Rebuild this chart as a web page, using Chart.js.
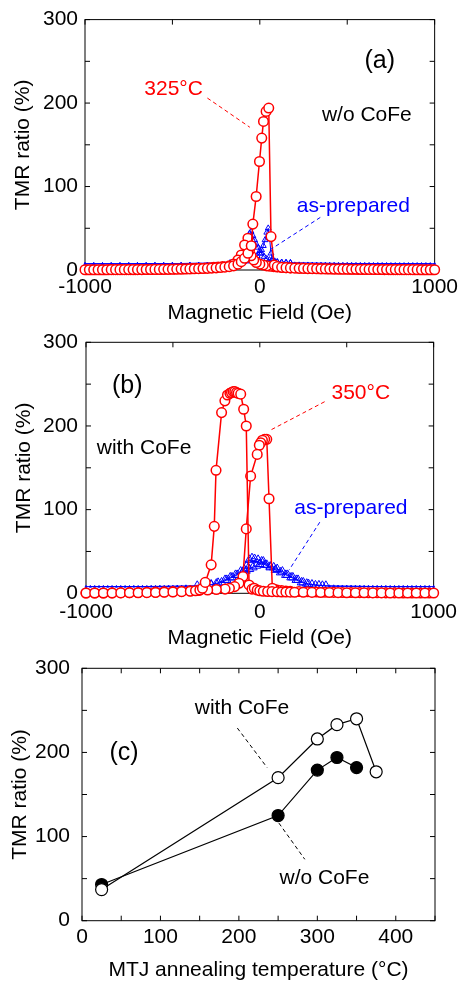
<!DOCTYPE html>
<html>
<head>
<meta charset="utf-8">
<script src="https://cdn.jsdelivr.net/npm/chart.js"></script>
<style>
  html, body { margin: 0; padding: 0; background: #fff; }
  canvas { position: absolute; left: 0; top: 0; }
</style>
</head>
<body>
<canvas id="chartA" width="463" height="983"></canvas>
<canvas id="chartB" width="463" height="983"></canvas>
<canvas id="chartC" width="463" height="983"></canvas>
<script>
  // (a) w/o CoFe : 325C loop (red) and as-prepared loop (blue), field in Oe, TMR in %
  const aRedUpH = [-1000,-975,-950,-925,-900,-875,-850,-825,-800,-775,-750,-725,-700,-675,-650,-625,-600,-575,-550,-525,-500,-475,-450,-425,-400,-375,-350,-325,-300,-275,-250,-225,-200,
    -175,-150,-125,-106,-87,-68,-49,-40,-21,-2,11,21,36,51,64,83,100,125,150,175,
    200,225,250,275,300,325,350,375,400,425,450,475,500,525,550,575,600,625,650,675,700,725,750,775,800,825,850,875,900,925,950,975,1000];
  const aRedUpT = [0.3,0.3,0.3,0.3,0.3,0.3,0.4,0.4,0.4,0.4,0.5,0.5,0.5,0.5,0.6,0.6,0.7,0.7,0.8,0.8,0.9,1.0,1.1,1.2,1.3,1.5,1.6,1.8,2.0,2.3,2.6,3.0,3.4,
    4,5,7,10,14,20,29,55,88,130,158,178,190,194,40,6,4,3.2,2.8,2.5,
    2.2,2.0,1.9,1.7,1.6,1.5,1.4,1.3,1.2,1.1,1.1,1.0,1.0,0.9,0.9,0.8,0.8,0.7,0.7,0.6,0.6,0.6,0.5,0.5,0.5,0.4,0.4,0.4,0.4,0.3,0.3,0.3,0.3];
  const aRedDnH = [988,963,938,913,888,863,838,813,788,763,738,713,688,663,638,613,588,563,538,513,488,463,438,413,388,363,338,313,288,263,238,213,
    175,150,125,100,80,60,40,20,0,-20,-35,-50,-59,-68,-87,-106,-125,-150,-175,
    -213,-238,-263,-288,-313,-338,-363,-388,-413,-438,-463,-488,-513,-538,-563,-588,-613,-638,-663,-688,-713,-738,-763,-788,-813,-838,-863,-888,-913,-938,-963,-988];
  const aRedDnT = [0.3,0.3,0.3,0.3,0.3,0.4,0.4,0.4,0.4,0.5,0.5,0.5,0.6,0.6,0.7,0.7,0.8,0.8,0.9,0.9,1.0,1.1,1.2,1.3,1.4,1.5,1.6,1.8,1.9,2.1,2.3,2.5,
    2.6,2.9,3.2,3.6,4,4.5,5,6,7,9,12,17,24,38,30,18,12,7,5,
    4.2,3.6,3.1,2.7,2.4,2.1,1.9,1.7,1.5,1.4,1.2,1.1,1.0,0.9,0.8,0.8,0.7,0.7,0.6,0.6,0.5,0.5,0.5,0.4,0.4,0.4,0.4,0.3,0.3,0.3,0.3,0.3];
  const aBlueUpH = [-1000,-950,-900,-850,-800,-750,-700,-650,-600,-550,-500,-450,-400,-350,-300,-250,-200,
    -170,-140,-115,-95,-75,-60,-45,-30,-15,0,10,20,30,40,48,56,64,72,85,100,125,150,175,
    200,250,300,350,400,450,500,550,600,650,700,750,800,850,900,950,1000];
  const aBlueUpT = [7.5,7.5,7.5,7.5,7.5,7.5,7.6,7.6,7.7,7.7,7.8,7.8,7.9,8,8.1,8.2,8.3,
    8.5,8.8,9.2,9.8,10.5,11.5,13,15,17,20,24,29,36,45,50,38,20,13,10.5,9.5,9,8.7,8.5,
    8.3,8.2,8.1,8,7.9,7.8,7.8,7.7,7.7,7.6,7.6,7.5,7.5,7.5,7.5,7.5,7.5];
  const aBlueDnH = [975,925,875,825,775,725,675,625,575,525,475,425,375,325,275,225,
    175,150,125,100,85,70,55,40,25,10,0,-10,-20,-30,-40,-50,-58,-66,-75,-90,-110,-130,-160,
    -200,-250,-300,-350,-400,-450,-500,-550,-600,-650,-700,-750,-800,-850,-900,-950,-1000];
  const aBlueDnT = [7.5,7.5,7.5,7.5,7.5,7.6,7.6,7.7,7.7,7.8,7.8,7.9,8,8.1,8.2,8.3,
    8.5,8.7,9,9.5,10,11,12,13.5,16,20,23,27,31,36,41,46,44,30,17,11,9.5,9,8.6,
    8.3,8.2,8.1,8,7.9,7.8,7.8,7.7,7.7,7.6,7.6,7.5,7.5,7.5,7.5,7.5,7.5];

  // (b) with CoFe : 350C loop (red) and as-prepared loop (blue)
  const bRedUpH = [-1000,-950,-900,-850,-800,-750,-700,-650,-600,-550,-500,-450,-400,
    -370,-345,-330,-314,-280,-262,-252,-220,-201,-186,-172,-163,-153,-144,-134,-125,-110,-93,-78,-62,-45,-32,-15,0,20,45,70,100,125,150,175,
    200,250,300,350,400,450,500,550,600,650,700,750,800,850,900,950,1000];
  const bRedUpT = [0.3,0.3,0.4,0.4,0.5,0.6,0.7,0.8,1.0,1.2,1.5,2,2.5,
    3,4,6,13,34,80,147,216,230,237,239,240,241,241,240,239,238,220,200,10,5,6,4,3,2.5,2.2,2,1.8,1.6,1.5,1.4,
    1.3,1.2,1.1,1.0,0.9,0.8,0.7,0.6,0.6,0.5,0.5,0.4,0.4,0.4,0.3,0.3,0.3];
  const bRedDnH = [975,925,875,825,775,725,675,625,575,525,475,425,375,325,275,225,
    175,150,125,100,85,72,53,40,28,15,5,-3,-15,-53,-78,-97,-120,-145,-175,-200,
    -250,-300,-350,-400,-450,-500,-550,-600,-650,-700,-750,-800,-850,-900,-950,-1000];
  const bRedDnT = [0.3,0.3,0.4,0.4,0.5,0.5,0.6,0.7,0.8,0.9,1.0,1.1,1.3,1.5,1.8,2.2,
    2.5,2.8,3.2,3.8,4.5,6,113,184,184,183,180,177,166,140,77,20,12,8,6,5,
    4.5,4,3.5,3,2.5,2,1.7,1.5,1.2,1.0,0.8,0.7,0.5,0.4,0.3,0.3];
  const bBlueUpH = [-1000,-950,-900,-850,-800,-750,-700,-650,-600,-550,-500,-450,-400,
    -360,-320,-280,-250,-220,-190,-160,-130,-100,-80,-60,-40,-20,0,20,40,60,80,100,130,160,190,220,250,280,320,360,
    400,450,500,550,600,650,700,750,800,850,900,950,1000];
  const bBlueUpT = [8,8,8,8,8,8,8,8,8.1,8.2,8.3,8.4,8.5,
    8.7,9,10,11.5,13,16,19,22,25,27,29,31,33,35,38,34,32,31,29,26,22,19,16,13,11,9.5,9,
    8.7,8.5,8.4,8.3,8.2,8.1,8.1,8,8,8,8,8,8];
  const bBlueDnH = [975,925,875,825,775,725,675,625,575,525,475,425,
    380,340,300,270,240,210,180,150,120,90,60,30,10,-10,-30,-45,-60,-75,-90,-110,-140,-170,-200,-240,-280,-320,-360,
    -425,-475,-525,-575,-625,-675,-725,-775,-825,-875,-925,-975];
  const bBlueDnT = [8,8,8,8,8,8.1,8.1,8.2,8.3,8.4,8.5,8.7,
    9,9.5,10.5,11.5,13,16,19,22,25,28,31,34,38,40,41,42,40,33,28,26,22,19,16,12.5,10.5,9.5,9,
    8.7,8.5,8.4,8.3,8.2,8.1,8.1,8,8,8,8,8];

  // (c) peak TMR vs annealing temperature
  const cWithTemp = [25, 250, 300, 325, 350, 375];
  const cWithTmr = [37, 170, 216, 233, 240, 177];
  const cWoTemp = [25, 250, 300, 325, 350];
  const cWoTmr = [43, 125, 179, 194, 182];

  const FONT = "'Liberation Sans', Arial, Helvetica, sans-serif";
  Chart.defaults.font.family = FONT;
  Chart.defaults.font.size = 21;
  Chart.defaults.color = '#000';

  const pts = (xs, ys) => xs.map((x, i) => ({ x: x, y: ys[i] }));

  // box round the plot and inward ticks on all four sides
  const frame = {
    id: 'frame',
    beforeDatasetsDraw(chart) {
      const { ctx, chartArea: a, scales } = chart;
      ctx.save();
      ctx.strokeStyle = '#000';
      ctx.lineWidth = 1;
      ctx.strokeRect(a.left, a.top, a.right - a.left, a.bottom - a.top);
      ctx.beginPath();
      scales.x.ticks.forEach(t => {
        const px = scales.x.getPixelForValue(t.value);
        ctx.moveTo(px, a.bottom); ctx.lineTo(px, a.bottom - 5);
        ctx.moveTo(px, a.top); ctx.lineTo(px, a.top + 5);
      });
      scales.y.ticks.forEach(t => {
        const py = scales.y.getPixelForValue(t.value);
        ctx.moveTo(a.left, py); ctx.lineTo(a.left + 5, py);
        ctx.moveTo(a.right, py); ctx.lineTo(a.right - 5, py);
      });
      ctx.stroke();
      ctx.restore();
    }
  };

  // labels and dashed leader lines, placed in data units
  const notes = {
    id: 'notes',
    afterDatasetsDraw(chart, args, opts) {
      const { ctx, scales } = chart;
      const X = v => scales.x.getPixelForValue(v);
      const Y = v => scales.y.getPixelForValue(v);
      ctx.save();
      (opts.lines || []).forEach(l => {
        ctx.strokeStyle = l.color;
        ctx.lineWidth = 1;
        ctx.setLineDash([4, 3]);
        ctx.beginPath();
        ctx.moveTo(X(l.x1), Y(l.y1));
        ctx.lineTo(X(l.x2), Y(l.y2));
        ctx.stroke();
      });
      ctx.setLineDash([]);
      ctx.textAlign = 'center';
      ctx.textBaseline = 'middle';
      (opts.texts || []).forEach(t => {
        ctx.fillStyle = t.color || '#000';
        ctx.font = (t.size || 21) + 'px ' + FONT;
        ctx.fillText(t.t, X(t.x), Y(t.y));
      });
      ctx.restore();
    }
  };

  function axes(o) {
    return {
      x: {
        type: 'linear', min: o.xmin, max: o.xmax,
        grid: { display: false, drawTicks: false },
        border: { display: false },
        ticks: {
          stepSize: o.xstep, autoSkip: false, maxRotation: 0, padding: o.xpad,
          callback: v => (v % o.xlab === 0 ? String(v) : '')
        },
        title: { display: true, text: o.xtitle, padding: { top: 0, bottom: o.xtp } },
        afterFit: s => { s.height = o.xh; }
      },
      y: {
        type: 'linear', min: 0, max: 300,
        grid: { display: false, drawTicks: false },
        border: { display: false },
        ticks: {
          stepSize: 50, autoSkip: false, padding: o.ypad,
          callback: v => (v % 100 === 0 ? String(v) : '')
        },
        title: { display: true, text: 'TMR ratio (%)', padding: { top: o.ytp, bottom: 0 } },
        afterFit: s => { s.width = o.yw; }
      }
    };
  }

  function makeChart(id, datasets, o, noteOpts) {
    new Chart(document.getElementById(id), {
      type: 'line',
      data: { datasets: datasets },
      options: {
        responsive: false,
        animation: false,
        events: [],
        layout: {
          autoPadding: false,
          padding: { left: o.left - o.yw, right: 463 - o.right, top: o.top, bottom: 983 - o.bottom - o.xh }
        },
        scales: axes(o),
        plugins: { legend: { display: false }, tooltip: { enabled: false }, notes: noteOpts }
      },
      plugins: [frame, notes]
    });
  }

  const redSet = (xs, ys) => ({
    data: pts(xs, ys), borderColor: '#ff0000', borderWidth: 1.5,
    pointStyle: 'circle', pointRadius: 4.8, pointBorderWidth: 1.5,
    pointBorderColor: '#ff0000', pointBackgroundColor: '#ffffff',
    tension: 0, clip: false
  });
  // triangles shrink to dots where the loop lies on the baseline
  const blueSet = (xs, ys, r, dotBelow) => ({
    data: pts(xs, ys), borderColor: '#0000ff', borderWidth: 1,
    pointStyle: 'triangle', pointRadius: c => (c.raw && c.raw.y < dotBelow ? 1.2 : r), pointBorderWidth: 1,
    pointBorderColor: '#0000ff', pointBackgroundColor: 'rgba(0,0,0,0)',
    tension: 0, clip: false
  });

  makeChart('chartA', [
    redSet(aRedUpH, aRedUpT), redSet(aRedDnH, aRedDnT),
    blueSet(aBlueUpH, aBlueUpT, 3.4, 8.4), blueSet(aBlueDnH, aBlueDnT, 3.4, 8.4)
  ], {
    left: 85, right: 438, top: 18, bottom: 270, yw: 85, xh: 60,
    xmin: -1000, xmax: 1000, xstep: 500, xlab: 1000, xtitle: 'Magnetic Field (Oe)',
    xpad: 5, xtp: 4, ypad: 7, ytp: 11
  }, {
    texts: [
      { t: '(a)', x: 686, y: 250, size: 25 },
      { t: '325°C', x: -493, y: 217, color: '#ff0000' },
      { t: 'w/o CoFe', x: 612, y: 185 },
      { t: 'as-prepared', x: 535, y: 76, color: '#0000ff' }
    ],
    lines: [
      { x1: -300, y1: 206, x2: -57, y2: 171, color: '#ff0000' },
      { x1: 346, y1: 63, x2: 57, y2: 24, color: '#0000ff' }
    ]
  });

  makeChart('chartB', [
    redSet(bRedUpH, bRedUpT), redSet(bRedDnH, bRedDnT),
    blueSet(bBlueUpH, bBlueUpT, 5, 8.8), blueSet(bBlueDnH, bBlueDnT, 5, 8.8)
  ], {
    left: 86, right: 438, top: 342.3, bottom: 593.3, yw: 86, xh: 60,
    xmin: -1000, xmax: 1000, xstep: 500, xlab: 1000, xtitle: 'Magnetic Field (Oe)',
    xpad: 6, xtp: 2.4, ypad: 8, ytp: 12
  }, {
    texts: [
      { t: '(b)', x: -763, y: 248, size: 25 },
      { t: '350°C', x: 581, y: 239, color: '#ff0000' },
      { t: 'with CoFe', x: -666, y: 174 },
      { t: 'as-prepared', x: 524, y: 102, color: '#0000ff' }
    ],
    lines: [
      { x1: 373, y1: 229, x2: 61, y2: 195, color: '#ff0000' },
      { x1: 345, y1: 85, x2: 169, y2: 28, color: '#0000ff' }
    ]
  });

  makeChart('chartC', [
    {
      data: pts(cWithTemp, cWithTmr), borderColor: '#000', borderWidth: 1.2,
      pointRadius: 6, pointBorderWidth: 1.2, pointBorderColor: '#000',
      pointBackgroundColor: '#fff', tension: 0, clip: false
    },
    {
      data: pts(cWoTemp, cWoTmr), borderColor: '#000', borderWidth: 1.2,
      pointRadius: 6, pointBorderWidth: 1.2, pointBorderColor: '#000',
      pointBackgroundColor: '#000', tension: 0, clip: false
    }
  ], {
    left: 82, right: 435, top: 668.3, bottom: 920.7, yw: 82, xh: 62,
    xmin: 0, xmax: 450, xstep: 50, xlab: 100, xtitle: 'MTJ annealing temperature (°C)',
    xpad: 3.5, xtp: 0, ypad: 12, ytp: 7.5
  }, {
    texts: [
      { t: '(c)', x: 53.6, y: 199, size: 25 },
      { t: 'with CoFe', x: 204, y: 252 },
      { t: 'w/o CoFe', x: 309, y: 50 }
    ],
    lines: [
      { x1: 198, y1: 229, x2: 236, y2: 182, color: '#000' },
      { x1: 251, y1: 116, x2: 284, y2: 73, color: '#000' }
    ]
  });
</script>
</body>
</html>
